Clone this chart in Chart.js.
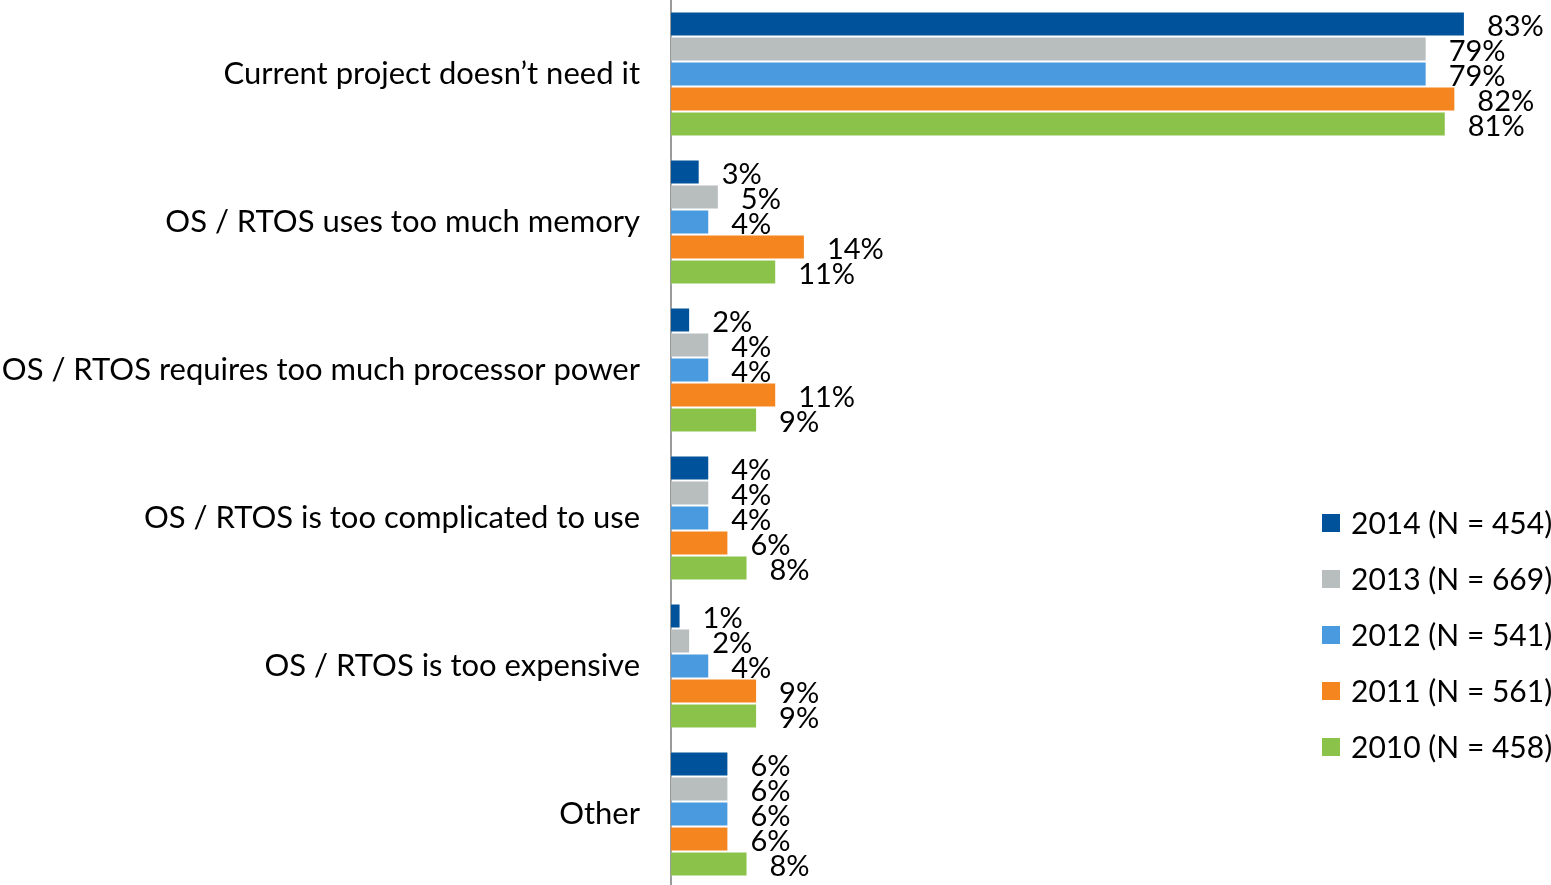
<!DOCTYPE html>
<html lang="en">
<head>
  <meta charset="UTF-8" />
  <title>Reasons for not using an OS / RTOS</title>
  <script src="https://cdn.jsdelivr.net/npm/chart.js"></script>
  <style>
    html, body { margin: 0; padding: 0; background: #fff; overflow: hidden; }
  </style>
</head>
<body>
  <canvas id="reasonChart" width="1551" height="888"></canvas>

  <script>
    const categories = [
      "Current project doesn\u2019t need it",
      "OS / RTOS uses too much memory",
      "OS / RTOS requires too much processor power",
      "OS / RTOS is too complicated to use",
      "OS / RTOS is too expensive",
      "Other"
    ];

    const seriesNames = ["2014 (N = 454)", "2013 (N = 669)", "2012 (N = 541)", "2011 (N = 561)", "2010 (N = 458)"];
    const seriesColors = ["#00529b", "#b8bdbe", "#4a9adf", "#f5861f", "#8bc34a"];

    const values2014 = [83, 3, 2, 4, 1, 6];
    const values2013 = [79, 5, 4, 4, 2, 6];
    const values2012 = [79, 4, 4, 4, 4, 6];
    const values2011 = [82, 14, 11, 6, 9, 6];
    const values2010 = [81, 11, 9, 8, 9, 8];

    const allValues = [values2014, values2013, values2012, values2011, values2010];
    const FONT = "Lato, 'Open Sans', sans-serif";

    // percentage text just past the end of each bar
    const valueLabels = {
      id: "valueLabels",
      afterDatasetsDraw(chart) {
        const ctx = chart.ctx;
        ctx.save();
        ctx.font = "29px " + FONT;
        ctx.fillStyle = "#000";
        ctx.textAlign = "left";
        ctx.textBaseline = "middle";
        chart.data.datasets.forEach((ds, i) => {
          chart.getDatasetMeta(i).data.forEach((bar, j) => {
            ctx.fillText(ds.data[j] + "%", bar.x + 22, bar.y + 3);
          });
        });
        ctx.restore();
      }
    };

    // legend drawn over the lower right part of the plot
    const sideLegend = {
      id: "sideLegend",
      afterDraw(chart) {
        const ctx = chart.ctx;
        ctx.save();
        ctx.font = "30px " + FONT;
        ctx.textAlign = "left";
        ctx.textBaseline = "middle";
        chart.data.datasets.forEach((ds, i) => {
          const y = 523 + i * 56;
          ctx.fillStyle = ds.backgroundColor;
          ctx.fillRect(1322, y - 9, 18, 18);
          ctx.fillStyle = "#000";
          ctx.fillText(ds.label, 1351, y + 1);
        });
        ctx.restore();
      }
    };

    new Chart(document.getElementById("reasonChart").getContext("2d"), {
      type: "bar",
      data: {
        labels: categories,
        datasets: seriesNames.map((name, i) => ({
          label: name,
          data: allValues[i],
          backgroundColor: seriesColors[i],
          borderColor: "rgba(255,255,255,0.5)",
          borderWidth: 1,
          categoryPercentage: 0.845,
          barPercentage: 1
        }))
      },
      options: {
        indexAxis: "y",
        responsive: false,
        animation: false,
        layout: { padding: 0 },
        plugins: {
          legend: { display: false },
          tooltip: { enabled: false }
        },
        scales: {
          x: {
            display: false,
            min: 0,
            max: 92
          },
          y: {
            afterFit(scale) {
              scale.width = 671;
              scale.paddingTop = 0;
              scale.paddingBottom = 0;
            },
            grid: { display: false, drawTicks: false },
            border: { display: true, color: "#9a9a9a", width: 2 },
            ticks: {
              color: "#000",
              padding: 31,
              font: { family: FONT, size: 31 }
            }
          }
        }
      },
      plugins: [valueLabels, sideLegend]
    });
  </script>
</body>
</html>
